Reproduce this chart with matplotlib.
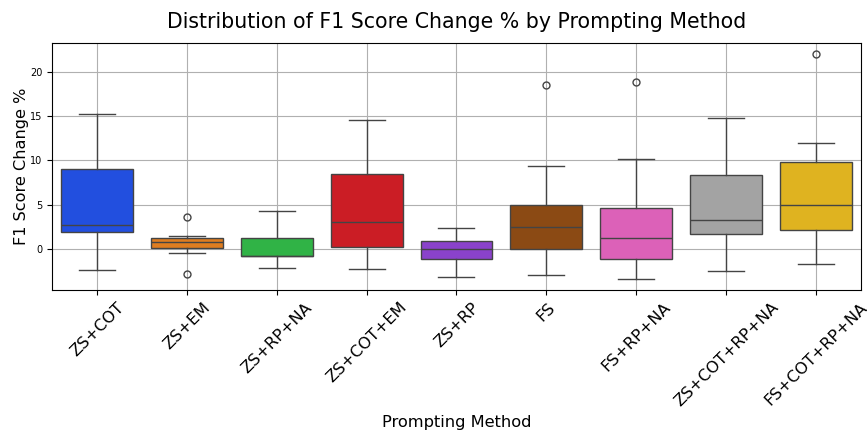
import matplotlib
matplotlib.use("Agg")
import matplotlib.pyplot as plt
import seaborn as sns

# box statistics (F1 score change %)
methods = ['ZS+COT', 'ZS+EM', 'ZS+RP+NA', 'ZS+COT+EM', 'ZS+RP', 'FS',
           'FS+RP+NA', 'ZS+COT+RP+NA', 'FS+COT+RP+NA']
q1 = [1.92, 0.11, -0.87, 0.15, -1.17, -0.04, -1.21, 1.62, 2.15]
median = [2.71, 0.75, -0.79, 3.01, 0.0, 2.41, 1.24, 3.24, 4.97]
q3 = [8.96, 1.24, 1.17, 8.47, 0.87, 4.97, 4.60, 8.29, 9.79]
whis_low = [-2.37, -0.49, -2.18, -2.30, -3.20, -2.98, -3.39, -2.56, -1.69]
whis_high = [15.18, 1.39, 4.29, 14.58, 2.30, 9.38, 10.13, 14.80, 12.0]
outliers = [[], [3.54, -2.90], [], [], [], [18.53], [18.83], [], [22.0]]

stats = []
for i, m in enumerate(methods):
    stats.append({'label': m, 'q1': q1[i], 'med': median[i], 'q3': q3[i],
                  'whislo': whis_low[i], 'whishi': whis_high[i],
                  'fliers': outliers[i]})

colors = [sns.desaturate(c, 0.75) for c in sns.color_palette('bright', len(methods))]
line_col = '#444444'

fig, ax = plt.subplots(figsize=(8.67, 4.34), dpi=100)
fig.subplots_adjust(left=0.060, right=0.993, top=0.901, bottom=0.332)

bp = ax.bxp(stats, positions=range(len(methods)), widths=0.8, capwidths=0.4,
            patch_artist=True, showfliers=True,
            boxprops=dict(edgecolor=line_col, linewidth=1.0),
            medianprops=dict(color=line_col, linewidth=1.0),
            whiskerprops=dict(color=line_col, linewidth=1.0),
            capprops=dict(color=line_col, linewidth=1.0),
            flierprops=dict(marker='o', markerfacecolor='none',
                            markeredgecolor=line_col, markersize=5))
for patch, c in zip(bp['boxes'], colors):
    patch.set_facecolor(c)

ax.set_xlim(-0.5, len(methods) - 0.5)
ax.set_ylim(-4.66, 23.27)
ax.set_xticks(range(len(methods)))
ax.set_xticklabels(methods, rotation=45, fontsize=11.6)
ax.tick_params(axis='y', labelsize=7)
ax.grid(True, color='#b0b0b0', linewidth=0.8)
ax.set_axisbelow(True)

ax.set_title('Distribution of F1 Score Change % by Prompting Method', fontsize=14.8, pad=11)
ax.set_xlabel('Prompting Method', fontsize=11.7)
ax.set_ylabel('F1 Score Change %', fontsize=11.6, labelpad=1)

fig.savefig('out.png', dpi=100)
